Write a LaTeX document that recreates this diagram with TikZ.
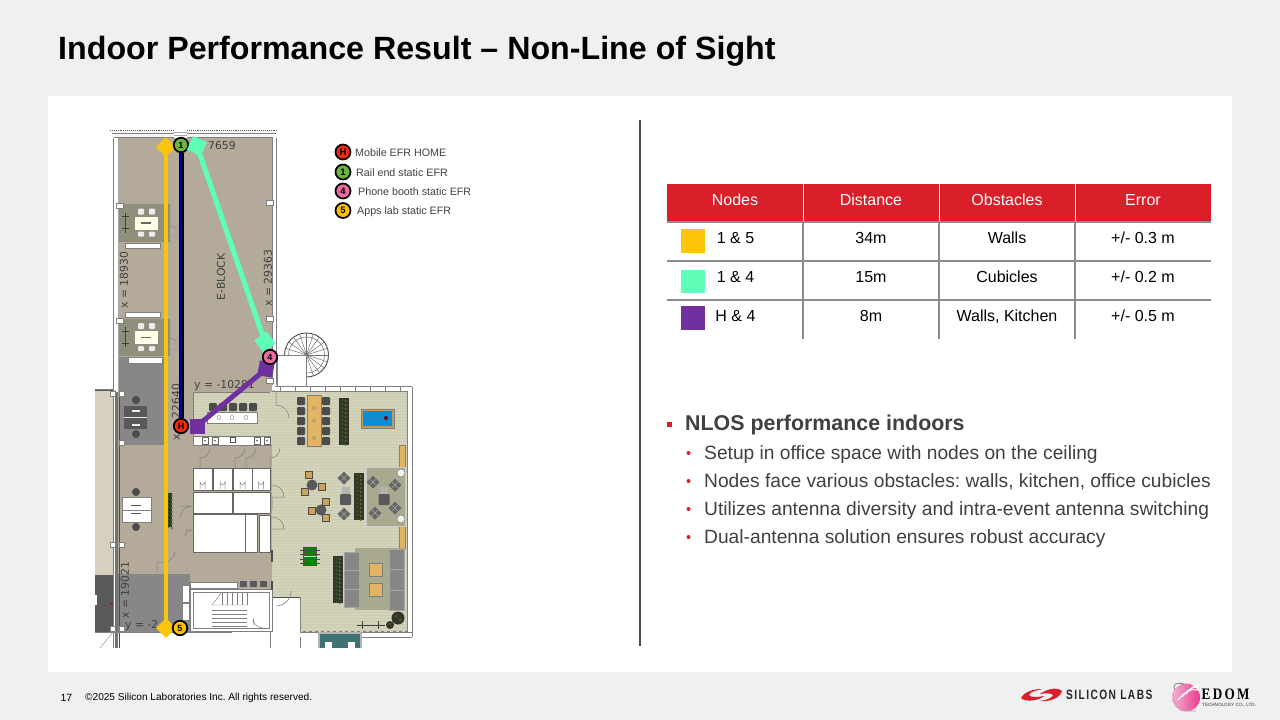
\documentclass[tikz,border=0pt]{standalone}
\usepackage{fontspec}
\setmainfont{Liberation Sans}
\newfontfamily\dv{DejaVu Sans}
\newfontfamily\silfont[LetterSpace=14]{Liberation Sans}
\newfontfamily\edomfont[LetterSpace=18]{Liberation Serif}
\AtBeginDocument{\frenchspacing}
\definecolor{bgc}{HTML}{F0F0F0}
\definecolor{tan}{HTML}{B3AA99}
\definecolor{sage}{HTML}{D2D3B9}
\definecolor{stripe}{HTML}{CBCCB1}
\definecolor{rug}{HTML}{A9A990}
\definecolor{roomc}{HTML}{8F8F7C}
\definecolor{greyroom}{HTML}{878787}
\definecolor{lefttan}{HTML}{D8D0BF}
\definecolor{wallc}{HTML}{8A8A8A}
\definecolor{woodc}{HTML}{E2B565}
\definecolor{yel}{HTML}{FCC50A}
\definecolor{teal2}{HTML}{5EFFB9}
\definecolor{purp}{HTML}{7030A0}
\definecolor{redc}{HTML}{DA1F2B}
\definecolor{txt}{HTML}{404040}
\definecolor{plantc}{HTML}{33352A}
\definecolor{pinred}{HTML}{F5280A}
\definecolor{pingreen}{HTML}{6CB33F}
\definecolor{pinpink}{HTML}{EE6AA0}
\definecolor{pinyel}{HTML}{FFC000}
\definecolor{edompink}{HTML}{E93A8C}
\tikzset{
  base/.style={x=1pt,y=-1pt},
  tcell/.style={font=\fontsize{16}{16}\selectfont,text=black,inner sep=0pt},
  thead/.style={font=\fontsize{16}{16}\selectfont,text=white,inner sep=0pt},
  planlab/.style={font=\dv\fontsize{10.8}{10.8}\selectfont,text=txt,inner sep=0pt},
  legtxt/.style={font=\fontsize{10.7}{11}\selectfont,text=txt,inner sep=0pt,anchor=west},
  pin/.style={circle,draw=black,line width=1.7pt,minimum size=14.5pt,inner sep=0pt,font=\bfseries\fontsize{9}{9}\selectfont,text=black},
  legpin/.style={circle,draw=black,line width=1.7pt,minimum size=15pt,inner sep=0pt,font=\bfseries\fontsize{9.5}{9.5}\selectfont,text=black},
  mark2/.style={rectangle,inner sep=0pt,minimum size=#1},
  bul1/.style={font=\bfseries\fontsize{21.4}{21.4}\selectfont,text=txt,inner sep=0pt,anchor=west},
  bul2/.style={font=\fontsize{19.2}{19.2}\selectfont,text=txt,inner sep=0pt,anchor=west},
  tline/.style={draw=gray!90,line width=1.2pt},
}
\newcommand\wroom[4]{\filldraw[fill=white,draw=gray!80!black,line width=1pt] (#1,#2) rectangle (#3,#4);}
\newcommand\dkchair[2]{\fill[black!70,rounded corners=1pt] (#1-4,#2-4) rectangle (#1+4,#2+4);}
\newcommand\ychair[2]{\fill[woodc!90!black] (#1-3.7,#2-3.7) rectangle (#1+3.7,#2+3.7);\draw[black!70,line width=.5pt] (#1-3.7,#2-3.7) rectangle (#1+3.7,#2+3.7);}
\newcommand\armchair[2]{\fill[black!60] (#1-6.5,#2) -- (#1,#2-6.5) -- (#1+6.5,#2) -- (#1,#2+6.5) -- cycle;\draw[black!35,line width=.4pt] (#1-3,#2-3) -- (#1+3,#2+3) (#1+3,#2-3) -- (#1-3,#2+3);}
\newcommand\plantbar[4]{\fill[plantc] (#1,#2) rectangle (#3,#4);
  \pgfmathsetmacro\mx{(#1+#3)/2}\pgfmathsetmacro\ys{#2+2}\pgfmathsetmacro\yt{#2+6}
  \foreach \yy in {\ys,\yt,...,#4}{\fill[green!30!black!85] (\mx-1.8,\yy) circle (1.1pt);\fill[olive!70!black] (\mx+1.8,\yy+1) circle (1.1pt);}}
\newcommand\meet[1]{%
  \fill[roomc] (119,#1) rectangle (170,#1+38);
  \draw[gray!70,line width=.8pt] (119,#1) -- (170,#1) -- (170,#1+38);
  \fill[black!75] (124.5,#1+9) rectangle (126,#1+29);
  \draw[black!75,line width=.8pt] (122,#1+13) -- (129,#1+13) (122,#1+25) -- (129,#1+25);
  \fill[white!90!yellow] (135,#1+13) rectangle (158,#1+26);
  \fill[black!60] (141,#1+18.5) rectangle (151,#1+20);
  \foreach \cx in {141,152}{\fill[white!85!gray,rounded corners=1pt] (\cx-3,#1+5) rectangle (\cx+3,#1+11);\fill[white!85!gray,rounded corners=1pt] (\cx-3,#1+28) rectangle (\cx+3,#1+33);}
}
\begin{document}
\begin{tikzpicture}[base]
\useasboundingbox (0,0) rectangle (1280,720);
\fill[bgc] (0,0) rectangle (1280,720);
\fill[white] (48,96) rectangle (1232,672);
\node[font=\bfseries\fontsize{32.2}{32.2}\selectfont,text=black,anchor=west,inner sep=0pt] (title) at (58,51.5) {Indoor Performance Result – Non-Line of Sight};

% ===== floor plan =====
\fill[tan] (118,138) rectangle (272,392);
\fill[lefttan] (95,390) rectangle (113,575);
\fill[tan] (118,392) rectangle (272,590);
\fill[sage] (272,390) rectangle (407,632);
\fill[sage] (193,392) rectangle (272,445);
\foreach \yy in {393,396,...,630}{\draw[stripe,line width=.5pt] (272,\yy) -- (407,\yy);}
\foreach \yy in {393,396,...,444}{\draw[stripe,line width=.5pt] (193,\yy) -- (272,\yy);}
\fill[white] (272,597) rectangle (300,648);
\draw[black!70,line width=.8pt] (272,597) -- (300,597) -- (300,632);
\draw[gray,line width=.6pt] (300,597) -- (300,648);
\draw[gray,line width=.6pt] (276,606) arc (90:0:15);
\fill[greyroom] (119,357) rectangle (165,445);
\fill[greyroom] (115,574) rectangle (190,632);
\fill[black!65] (95,575) rectangle (113,632);
\fill[white] (95,595) rectangle (97,605);
\draw[cyan!60!gray,dashed,line width=.6pt] (114,576) -- (114,630);
\draw[red!70!black,line width=.6pt] (110,603) -- (113,603);
\meet{203.5}
\meet{318}
\fill[white] (125,243) rectangle (160,248);
\draw[gray,line width=.4pt] (125,243) rectangle (160,248);
\fill[white] (125,312) rectangle (160,317);
\draw[gray,line width=.4pt] (125,312) rectangle (160,317);
\fill[white] (128,357) rectangle (162,363);
\draw[gray,line width=.4pt] (128,357) rectangle (162,363);
\draw[gray,line width=.4pt] (170,225) -- (176,228) -- (176,236) -- (170,236);
\draw[gray,line width=.4pt] (170,338) -- (176,341) -- (176,350) -- (170,350);
% walls
\fill[white] (113,138) rectangle (118,648);
\draw[gray,line width=.9pt] (113,138) -- (113,648) (115,390) -- (115,648);
\draw[gray!70,line width=.9pt] (118,138) -- (118,392);
\fill[black!55] (115,392) rectangle (118,648);
\draw[gray!60!black,line width=.8pt] (119,392) -- (119,648);
\fill[white] (272,138) rectangle (276,385);
\draw[gray,line width=.7pt] (272,138) -- (272,385) (276,138) -- (276,385);
\foreach \yy in {203,318}{\fill[white] (116,\yy) rectangle (123,\yy+5); \draw[gray,line width=.4pt] (116,\yy) rectangle (123,\yy+5);}
\foreach \yy in {200,316,378}{\fill[white] (266,\yy) rectangle (273,\yy+5); \draw[gray,line width=.4pt] (266,\yy) rectangle (273,\yy+5);}
% top wall
\fill[white!92!gray] (111,131) rectangle (174,137);\fill[white!92!gray] (187,131) rectangle (277,137);
\draw[gray!70!black,densely dotted,line width=.9pt] (110,130.5) -- (174,130.5) (187,130.5) -- (278,130.5);
\draw[gray,line width=.7pt] (112,133) -- (174,133) (187,133) -- (276,133);
\draw[gray,line width=.8pt] (114,137) -- (174,137) (187,137) -- (273,137);
\fill[white] (174,132) rectangle (187,138);
\draw[gray!70,line width=.6pt] (174,132) -- (187,132) (174,135) -- (187,135);
% spiral stair
\draw[black!70,line width=.9pt] (306.5,355) circle (22);
\draw[black!60,line width=.5pt] (306.5,355) circle (18);
\foreach \aa in {0,18,...,342}{\draw[black!55,line width=.5pt] (306.5,355) -- ++(\aa:22);}
\fill[white] (277,355) rectangle (306,388);
\draw[gray,line width=.8pt] (277,355) rectangle (306,388);
% outer walls of lounge
\fill[white] (275,386) rectangle (412,391);
\draw[gray,line width=.7pt] (275,386.5) -- (412,386.5) (272,391) -- (407,391);
\foreach \xx in {280,295,...,400}{\draw[gray,line width=.4pt] (\xx,386.5) -- (\xx,391);}
\fill[white] (407,387) rectangle (412,637);
\draw[gray,line width=.7pt] (407,391) -- (407,632) (412,387) -- (412,637);
\fill[white] (300,632) rectangle (412,637);
\draw[gray,line width=.7pt] (300,632) -- (412,632) (360,637) -- (412,637);
\draw[gray,dashed,line width=.4pt] (303,631) -- (407,631);
% kitchen
\draw[gray,line width=1pt] (193,392) -- (270,392) (193,392) -- (193,445) -- (272,445);
\foreach \xx in {213,223,233,243,253}{\dkchair{\xx}{407}}
\filldraw[fill=white,draw=gray,line width=.5pt] (207,412) rectangle (257,423);
\foreach \xx in {219,232,246}{\draw[gray,line width=.4pt] (\xx,417.5) circle (2);}
\filldraw[fill=white,draw=gray,line width=.5pt] (193,436) rectangle (270,445);
\foreach \xx in {205,215,257,267}{\draw[black!60,line width=.4pt] (\xx-3,437) rectangle (\xx+3,444);\fill[black!60] (\xx,440.5) circle (1);}
\draw[black!70,line width=.5pt] (230,437) rectangle (235,442);
% long table
\foreach \yy in {401,411,421,431,441}{\dkchair{301}{\yy}\dkchair{326}{\yy}}
\filldraw[fill=woodc,draw=gray,line width=.4pt] (307,395) rectangle (321,446);
\foreach \yy in {408,421,438}{\draw[gray,line width=.4pt] (314,\yy) circle (1.7);}
\plantbar{339}{398}{349}{445}
% pool table
\filldraw[fill=woodc!85!black,draw=gray,line width=.5pt] (361,409) rectangle (394,428);
\fill[cyan!75!blue] (363,411) rectangle (392,426);
\foreach \xx in {371,379}{\fill[black!60] (\xx,418) circle (1.3);}
\fill[red!50!black] (386,418) circle (2);
% right benches
\filldraw[fill=woodc,draw=gray,line width=.4pt] (399,445) rectangle (405,468);
\filldraw[fill=woodc,draw=gray,line width=.4pt] (399,525) rectangle (405,548);
% lounge
\fill[rug] (366,467) rectangle (405,526);
\draw[gray!40,line width=.5pt] (366,467) rectangle (405,526);
\foreach \yy in {473,519}{\filldraw[fill=white!90!gray,draw=gray,line width=.5pt] (401,\yy) circle (4);}
\armchair{373}{482}\armchair{395}{485}\armchair{375}{513}\armchair{395}{508}
\armchair{344}{478}\armchair{344}{514}
\fill[gray!60] (380,487) rectangle (388,494);
\fill[black!65,rounded corners=1pt] (378.5,494) rectangle (389.5,505);
\fill[gray!60] (342,487) rectangle (350,494);
\fill[black!65,rounded corners=1pt] (340,494) rectangle (351,505);
\plantbar{354}{473}{364}{520}
% cafe
\ychair{309}{475}\ychair{322}{487}\ychair{305}{492}\ychair{326}{502}\ychair{312}{511}\ychair{326}{518}
\fill[black!65] (312,485) circle (5.5);
\fill[black!65] (321,510) circle (5.5);
% foosball
\fill[black!70] (303,547) rectangle (317,566);
\fill[green!55!black] (304.5,548) rectangle (315.5,565);
\draw[white!70!green,line width=.4pt] (304,556.5) -- (316,556.5);
\foreach \yy in {550,554,559,563}{\draw[black!70,line width=.5pt] (300,\yy) -- (320,\yy);}
\plantbar{333}{556}{343}{603}
% big rug + sofas
\fill[rug] (355,548) rectangle (405,610);
\filldraw[fill=gray!95,draw=gray!70,line width=.4pt] (344,552) rectangle (359,607);
\draw[gray!70,line width=.4pt] (344,570) -- (359,570) (344,589) -- (359,589);
\filldraw[fill=gray!95,draw=gray!70,line width=.4pt] (389,549) rectangle (404,610);
\draw[gray!70,line width=.4pt] (389,569) -- (404,569) (389,590) -- (404,590);
\filldraw[fill=woodc,draw=gray,line width=.4pt] (369,563) rectangle (382,576);
\filldraw[fill=woodc,draw=gray,line width=.4pt] (369,583) rectangle (382,596);
% gym + plant
\draw[black!75,line width=1pt] (357,625) -- (385,625) (362,621) -- (362,629) (378,621) -- (378,629);
\fill[plantc] (398,618) circle (6.5);
\fill[plantc] (390,625) circle (4);
\fill[olive!55!black] (396,616) circle (1.5);\fill[olive!55!black] (400,620) circle (1.5);\fill[olive!55!black] (390,624) circle (1.2);
% bottom teal room
\fill[black!30] (318,632) rectangle (362,648);
\fill[teal!45!gray!90!black] (320,634) rectangle (360,648);
\fill[white] (325,642) rectangle (332,648);\fill[white] (348,642) rectangle (355,648);
% washrooms
\foreach \xa/\xb in {193/212,213/232,233/252,252/270}{\wroom{\xa}{468}{\xb}{490}
  \pgfmathsetmacro\cxx{(\xa+\xb)/2}
  \draw[gray,line width=.5pt] (\cxx-2.5,489) -- (\cxx-2.5,482) arc (180:0:2.5) -- (\cxx+2.5,489);}
\wroom{193}{492}{232}{513}
\wroom{233}{492}{270}{513}
\wroom{193}{514}{245}{552}
\wroom{245}{514}{257}{552}
\wroom{259}{515}{270}{552}
\foreach \xx in {200,235,246,270}{\draw[gray,line width=.5pt] (\xx,468) -- (\xx,458) arc (90:0:10) ;}
\draw[gray,line width=.5pt] (192,506) arc (270:180:12) (180,506) -- (192,506);
\draw[gray,line width=.5pt] (272,497) -- (284,497) arc (0:-90:12) (272,509) -- (272,497);
\draw[gray,line width=.5pt] (272,529) -- (284,529) arc (0:-90:12);
\draw[gray,line width=.5pt] (192,530) arc (270:180:7) (185,530) -- (192,530);
\draw[gray,line width=.5pt] (157,573) -- (157,562) -- (164,562) arc (90:0:11);
\draw[gray,line width=.5pt] (276,391) -- (276,405) arc (-90:0:13);
% left desk and grey room table
\fill[black!70] (136,492) circle (4);\fill[black!70] (136,527) circle (4);
\filldraw[fill=white,draw=gray,line width=.5pt] (122,497) rectangle (151,510);
\filldraw[fill=white,draw=gray,line width=.5pt] (122,510) rectangle (151,522);
\fill[black!65] (131,505) rectangle (141,506);\fill[black!65] (131,513) rectangle (141,514);
\plantbar{168}{493}{172}{527}
\fill[black!70] (136,400) circle (4);\fill[black!70] (136,434) circle (4);
\fill[black!65] (124,406) rectangle (147,429);
\fill[white!85!gray] (132,410) rectangle (140,412);\fill[white!85!gray] (132,424) rectangle (140,426);
\draw[gray!20,line width=.4pt] (124,417.5) -- (147,417.5);
\foreach \yy in {394,443,545,629}{\filldraw[fill=white,draw=gray,line width=.4pt] (119,\yy-2.5) rectangle (124,\yy+2.5);}
\foreach \yy in {394,545,629}{\filldraw[fill=white,draw=gray,line width=.4pt] (110,\yy-2.5) rectangle (115,\yy+2.5);}
\draw[black!65,line width=1pt] (95,390) -- (113,390);
\draw[gray,line width=.8pt] (95,389) -- (113,389);
% stair block
\filldraw[fill=white,draw=gray,line width=1pt] (190,589) rectangle (272,631);
\draw[gray,line width=.6pt] (193,592) rectangle (269,628);
\foreach \xx in {222,227,...,247}{\draw[gray,line width=.4pt] (\xx,592) -- (\xx,605);}
\foreach \yy in {610,614,...,626}{\draw[gray,line width=.4pt] (212,\yy) -- (247,\yy);}
\draw[gray,line width=.4pt] (212,605) -- (222,592) (247,605) -- (212,605);
\draw[gray,line width=.5pt] (253,626) -- (253,618) arc (180:90:10);
\fill[white] (182,585) rectangle (189,602);\fill[white] (182,603) rectangle (189,620);
\draw[gray,line width=.4pt] (182,585) rectangle (189,602) (182,603) rectangle (189,620);
\fill[white] (190,582) rectangle (237,588);\draw[gray,line width=.5pt] (190,582) rectangle (237,588);
\foreach \xx in {240,250,260}{\fill[black!65] (\xx,581) rectangle (\xx+6.5,587);}
\fill[black!70] (270.5,581) rectangle (272.5,590);
\fill[black!70] (270.5,550) rectangle (272.5,562);
\draw[gray,line width=.8pt] (95,632) -- (232,632);
\draw[gray,line width=.4pt] (113,632) -- (100,648);
\draw[gray,line width=.4pt] (270,631) -- (270,648);
% plan labels
\node[planlab,anchor=west] (l7659) at (208,145.5) {7659};
\node[planlab,rotate=90] (lblock) at (221,277) {E-BLOCK};
\node[planlab,rotate=90] (lx1) at (124,280) {x = 18930};
\node[planlab,rotate=90] (lx2) at (268,278) {x = 29363};
\node[planlab,rotate=90] (lx3) at (176,412) {x = 22640};
\node[planlab,rotate=90] (lx4) at (125,590) {x = 19021};
\node[planlab,anchor=west] (ly1) at (194,385.5) {y = -10281};
\node[planlab,anchor=west] (ly2) at (125,625.5) {y = -2};

% ===== markers and connectors =====
\node[mark2=14pt,fill=yel,rotate=45] (d1) at (166,147) {};
\node[mark2=14pt,fill=yel,rotate=45] (d5) at (166,628) {};
\draw[yel,line width=4pt] (d1.center) -- (d5.center);
\node[pin,fill=pingreen] (n1) at (181,145) {1};
\node[pin,fill=pinred] (nH) at (181,426) {H};
\draw[black,line width=5pt] (n1) -- (nH);
\draw[blue!75!black,line width=2.4pt] (n1) -- (nH);
\node[mark2=15pt,fill=teal2,rotate=-25] (t1) at (197,146) {};
\node[mark2=15pt,fill=teal2,rotate=37] (t2) at (265,342) {};
\draw[teal2,line width=5pt] (t1.center) -- (t2.center);
\node[mark2=15pt,fill=purp] (p1) at (197,426) {};
\node[mark2=15pt,fill=purp,rotate=-10] (p2) at (266,369) {};
\draw[purp,line width=5pt] (p1.center) -- (p2.center);
\node[pin,fill=pinpink] (n4) at (270,357) {4};
\node[pin,fill=pinyel] (n5) at (180,628) {5};

% ===== legend =====
\node[legpin,fill=pinred] (lgH) at (343,152) {H};
\node[legpin,fill=pingreen] (lg1) at (343,172) {1};
\node[legpin,fill=pinpink] (lg4) at (343,191) {4};
\node[legpin,fill=pinyel] (lg5) at (343,210.5) {5};
\node[legtxt] (ltH) at (355,153) {Mobile EFR HOME};
\node[legtxt] (lt1) at (356,173) {Rail end static EFR};
\node[legtxt] (lt4) at (358,192) {Phone booth static EFR};
\node[legtxt] (lt5) at (357,211.5) {Apps lab static EFR};

% ===== separator =====
\draw[black!70,line width=1.5pt] (640,120) -- (640,646);

% ===== table =====
\fill[redc] (667,184) rectangle (1211,222);
\draw[white,line width=1pt] (803,184) -- (803,222) (939,184) -- (939,222) (1075,184) -- (1075,222);
\draw[tline] (667,222) -- (1211,222) (667,261) -- (1211,261) (667,300) -- (1211,300);
\draw[tline] (803,222) -- (803,339) (939,222) -- (939,339) (1075,222) -- (1075,339);
\node[thead] (h1) at (735,200) {Nodes};
\node[thead] (h2) at (871,200) {Distance};
\node[thead] (h3) at (1007,200) {Obstacles};
\node[thead] (h4) at (1143,200) {Error};
\fill[yel] (681,229) rectangle (705,253);
\fill[teal2] (681,270) rectangle (705,293);
\fill[purp] (681,306) rectangle (705,330);
\node[tcell] (c11) at (735.5,238) {1 \& 5};
\node[tcell] (c12) at (871,238) {34m};
\node[tcell] (c13) at (1007,238) {Walls};
\node[tcell] (c14) at (1143,238) {+/- 0.3 m};
\node[tcell] (c21) at (735.5,277) {1 \& 4};
\node[tcell] (c22) at (871,277) {15m};
\node[tcell] (c23) at (1007,277) {Cubicles};
\node[tcell] (c24) at (1143,277) {+/- 0.2 m};
\node[tcell] (c31) at (735.5,316) {H \& 4};
\node[tcell] (c32) at (871,316) {8m};
\node[tcell] (c33) at (1007,316.8) {Walls, Kitchen};
\node[tcell] (c34) at (1143,316) {+/- 0.5 m};

% ===== bullets =====
\fill[redc] (667,421.5) rectangle (672,426.5);
\node[bul1] (b0) at (685,424.5) {NLOS performance indoors};
\foreach \yy in {453,481,509,537}{\fill[redc] (688.5,\yy) circle (2);}
\node[bul2] (b1) at (704,454.5) {Setup in office space with nodes on the ceiling};
\node[bul2] (b2) at (704,482) {Nodes face various obstacles: walls, kitchen, office cubicles};
\node[bul2] (b3) at (704,510.5) {Utilizes antenna diversity and intra-event antenna switching};
\node[bul2] (b4) at (704,538.5) {Dual-antenna solution ensures robust accuracy};

% ===== footer =====
\node[font=\fontsize{10.5}{10.5}\selectfont,text=black,inner sep=0pt] (pg) at (66.5,698) {17};
\node[font=\fontsize{10.1}{10.1}\selectfont,text=black,inner sep=0pt,anchor=west] (copy) at (85,698) {©2025 Silicon Laboratories Inc. All rights reserved.};
% silicon labs logo
\fill[redc] (1021,698) .. controls (1024,692) and (1034,688.5) .. (1043,689) .. controls (1036,690) and (1030,692) .. (1029,695) .. controls (1031,698) and (1038,697) .. (1044,696) .. controls (1040,700) and (1026,703) .. (1021,698) -- cycle;
\fill[redc] (1062,691) .. controls (1060,698) and (1050,702) .. (1040,701) .. controls (1047,700) and (1052,698) .. (1053,695) .. controls (1051,693) and (1046,693) .. (1040,694) .. controls (1045,690) and (1056,686) .. (1062,691) -- cycle;
\node[font=\silfont\bfseries\fontsize{13.5}{13.5}\selectfont,text=black!85,inner sep=0pt,anchor=west,xscale=.755] (sil) at (1066,694.5) {SILICON LABS};
% edom logo
\shade[left color=white!60!edompink,right color=edompink] (1186,697.5) circle (14);
\draw[gray,line width=.8pt] (1175,690) .. controls (1172,684) and (1176,682) .. (1184,684);
\draw[gray!70,line width=.6pt] (1174,695) .. controls (1172,705) and (1182,712) .. (1196,711);
\foreach \aa/\bb in {0/0,4/3,8/6}{\draw[white,line width=1.1pt] (1178+\aa,700-\bb) .. controls (1184+\aa,692-\bb) and (1192+\aa,688-\bb) .. (1198,690-\bb/2);}
\node[font=\edomfont\bfseries\fontsize{16}{16}\selectfont,text=black,inner sep=0pt,anchor=west,xscale=.82] (edom) at (1201.5,694) {EDOM};
\node[font=\fontsize{4.6}{4.6}\selectfont,text=black!80,inner sep=0pt,anchor=west] (edom2) at (1202,705) {TECHNOLOGY CO., LTD.};
\end{tikzpicture}
\end{document}
